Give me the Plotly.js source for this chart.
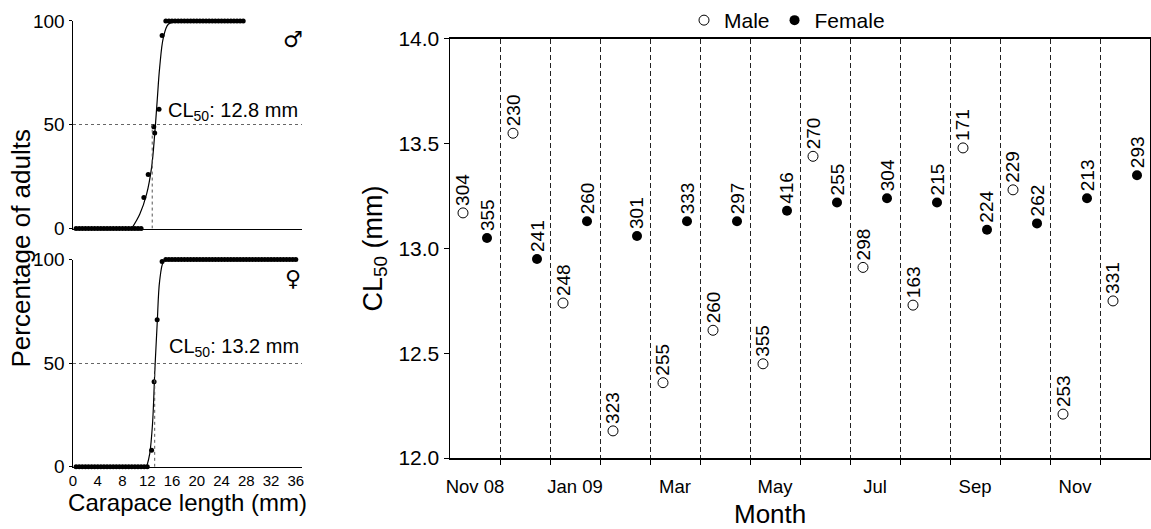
<!DOCTYPE html>
<html><head><meta charset="utf-8">
<script src="https://cdn.plot.ly/plotly-3.0.1.min.js"></script>
<style>html,body{margin:0;padding:0;background:#fff}#chart{width:1151px;height:529px}</style>
</head><body><div id="chart"></div>
<script>
// ---------- Left panels: percentage of adults vs carapace length ----------
const maleLength = [0.5,1,1.5,2,2.5,3,3.5,4,4.5,5,5.5,6,6.5,7,7.5,8,8.5,9,9.5,10,10.5,11,
  11.45,12.15,13.05,13.2,13.9,14.4,
  15,15.5,16,16.5,17,17.5,18,18.5,19,19.5,20,20.5,21,21.5,22,22.5,23,23.5,24,24.5,25,25.5,26,26.5,27,27.5];
const malePct = [0,0,0,0,0,0,0,0,0,0,0,0,0,0,0,0,0,0,0,0,0,0,
  15,26,49,46,57.5,93,
  100,100,100,100,100,100,100,100,100,100,100,100,100,100,100,100,100,100,100,100,100,100,100,100,100,100];
const maleCurveLength = [9.6,10.8,11.9,12.7,13.2,13.6,14.0,14.6,15.4,16.7];
const maleCurvePct    = [0.6,7,16.7,29.5,45.5,61.5,77.5,92,98.4,99.7];

const femaleLength = [0.5,1,1.5,2,2.5,3,3.5,4,4.5,5,5.5,6,6.5,7,7.5,8,8.5,9,9.5,10,10.5,11,11.5,12,
  12.7,13.1,13.6,14.4,
  15,15.5,16,16.5,17,17.5,18,18.5,19,19.5,20,20.5,21,21.5,22,22.5,23,23.5,24,24.5,25,25.5,
  26,26.5,27,27.5,28,28.5,29,29.5,30,30.5,31,31.5,32,32.5,33,33.5,34,34.5,35,35.5,36];
const femalePct = [0,0,0,0,0,0,0,0,0,0,0,0,0,0,0,0,0,0,0,0,0,0,0,0,
  8,41,71,99,
  100,100,100,100,100,100,100,100,100,100,100,100,100,100,100,100,100,100,100,100,100,100,
  100,100,100,100,100,100,100,100,100,100,100,100,100,100,100,100,100,100,100,100,100];
const femaleCurveLength = [11.9,12.4,12.85,13.2,13.6,14.0,14.6,15.1];
const femaleCurvePct    = [0,6.4,20.8,44.9,69,89.7,99,100];

const cl50Male = 12.8, cl50Female = 13.2;
const lengthTicks = [0,4,8,12,16,20,24,28,32,36];
const pctTicks = [0,50,100];

// ---------- Right panel: monthly CL50 ----------
const months = ['Nov 08','Dec 08','Jan 09','Feb','Mar','Apr','May','Jun','Jul','Aug','Sep','Oct','Nov','Dec'];
const monthTickText = ['Nov 08','Jan 09','Mar','May','Jul','Sep','Nov'];
const maleCL50   = [13.17,13.55,12.74,12.13,12.36,12.61,12.45,13.44,12.91,12.73,13.48,13.28,12.21,12.75];
const maleN      = [304,230,248,323,255,260,355,270,298,163,171,229,253,331];
const femaleCL50 = [13.05,12.95,13.13,13.06,13.13,13.13,13.18,13.22,13.24,13.22,13.09,13.12,13.24,13.35];
const femaleN    = [355,241,260,301,333,297,416,255,304,215,224,262,213,293];
const cl50Ticks = [12,12.5,13,13.5,14];

// ---------- layout helpers ----------
const W = 1151, H = 529;
const fx = p => p / W;
const fy = p => 1 - p / H;
const FONT = 'Liberation Sans, Arial, Helvetica, sans-serif';

const idx = months.map((m, i) => i);
const maleX = idx.map(i => i - 0.24);
const femaleX = idx.map(i => i + 0.24);
const monthTickVals = monthTickText.map(t => months.indexOf(t));
const boundaries = idx.slice(0, -1).map(i => i + 0.5);

const traces = [
  {x: maleLength, y: malePct, xaxis: 'x', yaxis: 'y', type: 'scatter', mode: 'markers',
   marker: {size: 5, color: '#000'}, cliponaxis: false, showlegend: false, hoverinfo: 'skip'},
  {x: maleCurveLength, y: maleCurvePct, xaxis: 'x', yaxis: 'y', type: 'scatter', mode: 'lines',
   line: {color: '#000', width: 1.2, shape: 'spline'}, showlegend: false, hoverinfo: 'skip'},
  {x: femaleLength, y: femalePct, xaxis: 'x3', yaxis: 'y3', type: 'scatter', mode: 'markers',
   marker: {size: 5, color: '#000'}, cliponaxis: false, showlegend: false, hoverinfo: 'skip'},
  {x: femaleCurveLength, y: femaleCurvePct, xaxis: 'x3', yaxis: 'y3', type: 'scatter', mode: 'lines',
   line: {color: '#000', width: 1.2, shape: 'spline'}, showlegend: false, hoverinfo: 'skip'},
  {x: maleX, y: maleCL50, xaxis: 'x2', yaxis: 'y2', type: 'scatter', mode: 'markers', name: 'Male',
   marker: {symbol: 'circle-open', size: 10, color: '#000', line: {width: 1, color: '#000'}}, cliponaxis: false},
  {x: femaleX, y: femaleCL50, xaxis: 'x2', yaxis: 'y2', type: 'scatter', mode: 'markers', name: 'Female',
   marker: {symbol: 'circle', size: 10, color: '#000'}, cliponaxis: false}
];

const countAnn = (x, y, n) => ({
  x: x, y: y, xref: 'x2', yref: 'y2', text: String(n), showarrow: false, textangle: -90,
  xanchor: 'center', yanchor: 'bottom', yshift: 5, font: {size: 19, family: FONT, color: '#000'}
});

const annotations = [
  ...idx.map(i => countAnn(maleX[i], maleCL50[i], maleN[i])),
  ...idx.map(i => countAnn(femaleX[i], femaleCL50[i], femaleN[i])),
  {x: 15.1, y: 56.4, xref: 'x', yref: 'y', xanchor: 'left', yanchor: 'middle', showarrow: false,
   text: 'CL<sub>50</sub>: ' + cl50Male.toFixed(1) + ' mm', font: {size: 20, family: FONT, color: '#000'}},
  {x: 15.2, y: 57.5, xref: 'x3', yref: 'y3', xanchor: 'left', yanchor: 'middle', showarrow: false,
   text: 'CL<sub>50</sub>: ' + cl50Female.toFixed(1) + ' mm', font: {size: 20, family: FONT, color: '#000'}},
  {x: 35.6, y: 91, xref: 'x', yref: 'y', xanchor: 'center', yanchor: 'middle', showarrow: false, text: '\u2642',
   font: {size: 22, family: 'DejaVu Sans', color: '#000'}},
  {x: 35.6, y: 91, xref: 'x3', yref: 'y3', xanchor: 'center', yanchor: 'middle', showarrow: false, text: '\u2640',
   font: {size: 22, family: 'DejaVu Sans', color: '#000'}},
  {x: fx(21), y: fy(248), xref: 'paper', yref: 'paper', xanchor: 'center', yanchor: 'middle',
   showarrow: false, textangle: -90,
   text: 'Percentage of adults', font: {size: 26, family: FONT, color: '#000'}},
  {x: fx(770), y: fy(514), xref: 'paper', yref: 'paper', xanchor: 'center', yanchor: 'middle',
   showarrow: false, text: 'Month', font: {size: 26, family: FONT, color: '#000'}}
];

const shapes = [
  {type: 'line', xref: 'x', yref: 'y', x0: cl50Male, x1: cl50Male, y0: 0, y1: 50,
   line: {color: '#555', width: 1, dash: 'dot'}},
  {type: 'line', xref: 'x3', yref: 'y3', x0: cl50Female, x1: cl50Female, y0: 0, y1: 50,
   line: {color: '#555', width: 1, dash: 'dot'}}
];

const pctAxis = (dom, anchor) => ({
  domain: dom, anchor: anchor, range: [0, 100], tickvals: pctTicks, ticks: 'outside', ticklen: 3,
  tickcolor: '#000', showline: true, linecolor: '#000', linewidth: 1.5, showgrid: true,
  gridcolor: '#666', griddash: 'dot', gridwidth: 1, zeroline: false, fixedrange: true,
  tickfont: {size: 19}
});
const lenAxis = (anchor, labels) => ({
  domain: [fx(73), fx(302)], anchor: anchor, range: [0, 37], tickvals: lengthTicks,
  showticklabels: labels, ticks: '', showline: true, linecolor: '#000', linewidth: 1,
  showgrid: false, zeroline: false, fixedrange: true, tickfont: {size: 15}
});

const layout = {
  width: W, height: H, margin: {l: 0, r: 0, t: 0, b: 0},
  paper_bgcolor: '#fff', plot_bgcolor: '#fff',
  font: {family: FONT, color: '#000'},
  hovermode: false,
  showlegend: true,
  legend: {orientation: 'h', x: fx(684), y: fy(19.5), xanchor: 'left', yanchor: 'middle',
           font: {size: 21}, itemwidth: 30, bgcolor: 'rgba(0,0,0,0)'},
  xaxis: lenAxis('y', false),
  yaxis: pctAxis([fy(228), fy(20)], 'x'),
  xaxis3: Object.assign(lenAxis('y3', true),
    {title: {text: 'Carapace length (mm)', font: {size: 24}, standoff: 4}}),
  yaxis3: pctAxis([fy(466.7), fy(259)], 'x3'),
  xaxis2: {
    domain: [fx(450), fx(1150)], anchor: 'y2', range: [-0.5, 13.5],
    tickvals: monthTickVals, ticktext: monthTickText, ticks: '', ticklabelstandoff: 11,
    tickfont: {size: 18.5}, showline: true, linecolor: '#000', linewidth: 2, mirror: true,
    showgrid: false, zeroline: false, fixedrange: true,
    minor: {tickmode: 'array', tickvals: boundaries, ticks: 'outside', ticklen: 5, tickwidth: 1,
            tickcolor: '#000', showgrid: true, gridcolor: '#222', gridwidth: 1, griddash: '5px,3px'}
  },
  yaxis2: {
    domain: [fy(458), fy(38)], anchor: 'x2', range: [12, 14], tickvals: cl50Ticks,
    tickformat: '.1f', ticks: 'outside', ticklen: 5, tickcolor: '#000', showline: true,
    linecolor: '#000', linewidth: 1.5, mirror: true, showgrid: false, zeroline: false,
    fixedrange: true, tickfont: {size: 21},
    title: {text: 'CL<sub>50</sub> (mm)', font: {size: 27}, standoff: 8}
  },
  annotations: annotations,
  shapes: shapes
};

Plotly.newPlot('chart', traces, layout, {staticPlot: true, displayModeBar: false});
</script></body></html>
